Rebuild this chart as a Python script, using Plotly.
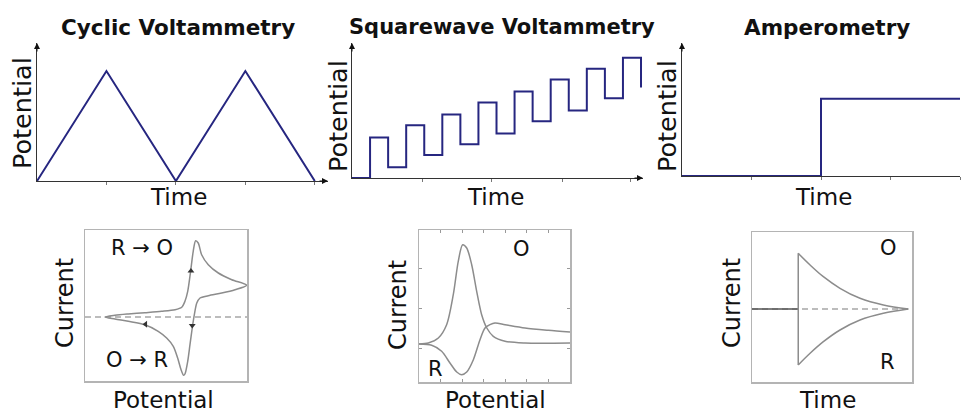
import plotly.graph_objects as go

W, H = 961, 415

# ---------------- data ----------------
cv_time = [0, 1, 2, 3, 4]
cv_potential = [0, 1, 0, 1, 0]
cv_ticks = [1, 2, 3, 4]

swv_time = [0, 1, 2, 3, 4, 5, 6, 7, 8, 9, 10, 11, 12, 13, 14, 15, 16]
swv_potential = [0, 0.30, 0.08, 0.39, 0.17, 0.47, 0.25, 0.56, 0.33,
                 0.64, 0.42, 0.73, 0.50, 0.81, 0.59, 0.89, 0.67]
swv_ticks = [3.9, 7.75, 11.65, 15.4]

amp_time = [0, 1, 1, 2]
amp_potential = [0, 0, 0.58, 0.58]
amp_ticks = [0.5, 1, 1.5, 2]

# CV current response (closed loop: forward then reverse scan)
cv_E = [0.123, 0.185, 0.267, 0.370, 0.473, 0.556, 0.597, 0.617, 0.634, 0.652,
        0.668, 0.683, 0.699, 0.720, 0.761, 0.823, 0.906, 0.998,
        0.926, 0.844, 0.761, 0.710, 0.690, 0.675, 0.662, 0.648, 0.634, 0.617,
        0.609, 0.593, 0.572, 0.545, 0.504, 0.452, 0.370, 0.267, 0.185, 0.123]
cv_i = [0.0, 0.17, 0.30, 0.43, 0.57, 0.73, 0.97, 1.57, 2.57, 4.57,
        6.57, 7.63, 7.40, 6.23, 5.23, 4.40, 3.73, 3.17,
        2.73, 2.40, 2.13, 1.90, 1.40, 0.23, -1.10, -2.77, -4.43, -5.70,
        -5.83, -5.27, -4.10, -2.93, -2.10, -1.43, -0.77, -0.43, -0.20, 0.0]
cv_arrow_E = [0.654, 0.374, 0.662]
cv_arrow_i = [4.6, -0.72, -0.85]
cv_arrow_sym = ["triangle-up", "triangle-left", "triangle-down"]

# SWV current response
swv_E_a = [0, 0.062, 0.128, 0.183, 0.227, 0.260, 0.289, 0.316, 0.349, 0.382,
           0.415, 0.449, 0.492, 0.570, 0.702, 1.0]
swv_i_a = [0, 0.10, 0.60, 1.93, 4.93, 8.27, 9.93, 9.60, 7.93, 5.27,
           2.93, 1.60, 0.77, 0.27, 0.10, 0.10]
swv_E_b = [0, 0.084, 0.150, 0.205, 0.250, 0.283, 0.316, 0.360, 0.404, 0.437,
           0.470, 0.503, 0.570, 0.702, 0.856, 1.0]
swv_i_b = [0, -0.13, -0.73, -1.90, -2.80, -3.07, -2.80, -1.57, 0.43, 1.60,
           1.93, 2.10, 1.93, 1.60, 1.37, 1.20]

# Amperometry current response
amp_t_base = [0, 0.289]
amp_i_base = [0, 0]
amp_t_step = [0.289, 0.289]
amp_i_step = [5.57, -5.6]
amp_t_decay = [0.289, 0.363, 0.446, 0.55, 0.675, 0.821, 0.977]
amp_i_up = [5.57, 4.4, 3.23, 2.07, 1.07, 0.4, 0.0]
amp_i_down = [-5.6, -4.43, -3.27, -2.1, -1.1, -0.43, 0.0]

baseline_x = [0, 1]
baseline_y = [0, 0]

titles = ["Cyclic Voltammetry", "Squarewave Voltammetry", "Amperometry"]

# ---------------- figure ----------------
NAVY = "#262680"
GREY = "#8c8c8c"
DASH = "#7a7a7a"
FONT = "DejaVu Sans"


def xd(a, b):
    return [a / W, b / W]


def yd(top, bottom):
    return [1 - bottom / H, 1 - top / H]


fig = go.Figure()

# top row
fig.add_trace(go.Scatter(x=cv_time, y=cv_potential, mode="lines",
                         line=dict(color=NAVY, width=2), xaxis="x", yaxis="y"))
fig.add_trace(go.Scatter(x=swv_time, y=swv_potential, mode="lines", line_shape="hv",
                         line=dict(color=NAVY, width=2), xaxis="x2", yaxis="y2"))
fig.add_trace(go.Scatter(x=amp_time, y=amp_potential, mode="lines",
                         line=dict(color=NAVY, width=2), xaxis="x3", yaxis="y3"))

# bottom row - CV
fig.add_trace(go.Scatter(x=baseline_x, y=baseline_y, mode="lines",
                         line=dict(color=DASH, width=1.2, dash="6px,4px"),
                         xaxis="x4", yaxis="y4"))
fig.add_trace(go.Scatter(x=cv_E, y=cv_i, mode="lines", line_shape="spline",
                         line=dict(color=GREY, width=1.5, smoothing=0.8),
                         xaxis="x4", yaxis="y4"))
fig.add_trace(go.Scatter(x=cv_arrow_E, y=cv_arrow_i, mode="markers",
                         marker=dict(symbol=cv_arrow_sym, size=6, color="#333"),
                         xaxis="x4", yaxis="y4"))

# bottom row - SWV
fig.add_trace(go.Scatter(x=swv_E_a, y=swv_i_a, mode="lines", line_shape="spline",
                         line=dict(color=GREY, width=1.5, smoothing=0.8),
                         xaxis="x5", yaxis="y5"))
fig.add_trace(go.Scatter(x=swv_E_b, y=swv_i_b, mode="lines", line_shape="spline",
                         line=dict(color=GREY, width=1.5, smoothing=0.8),
                         xaxis="x5", yaxis="y5"))

# bottom row - amperometry
fig.add_trace(go.Scatter(x=baseline_x, y=baseline_y, mode="lines",
                         line=dict(color=DASH, width=1.2, dash="6px,4px"),
                         xaxis="x6", yaxis="y6"))
fig.add_trace(go.Scatter(x=amp_t_base, y=amp_i_base, mode="lines",
                         line=dict(color="#555", width=1.5), xaxis="x6", yaxis="y6"))
fig.add_trace(go.Scatter(x=amp_t_step, y=amp_i_step, mode="lines",
                         line=dict(color=GREY, width=1.5), xaxis="x6", yaxis="y6"))
fig.add_trace(go.Scatter(x=amp_t_decay, y=amp_i_up, mode="lines", line_shape="spline",
                         line=dict(color=GREY, width=1.5), xaxis="x6", yaxis="y6"))
fig.add_trace(go.Scatter(x=amp_t_decay, y=amp_i_down, mode="lines", line_shape="spline",
                         line=dict(color=GREY, width=1.5), xaxis="x6", yaxis="y6"))

top_x = dict(showline=True, linecolor="#333", linewidth=1, showgrid=False,
             zeroline=False, ticks="outside", ticklen=3, tickcolor="#777",
             showticklabels=False, fixedrange=True)
top_y = dict(showline=True, linecolor="#333", linewidth=1, showgrid=False,
             zeroline=False, showticklabels=False, ticks="", fixedrange=True)
box = dict(showline=True, mirror=True, linecolor="#b4b4b4", linewidth=1.5,
           showgrid=False, zeroline=False, showticklabels=False, ticks="",
           fixedrange=True)

fig.update_layout(
    width=W, height=H, autosize=False,
    margin=dict(l=0, r=0, t=0, b=0),
    paper_bgcolor="white", plot_bgcolor="white",
    showlegend=False,
    xaxis=dict(top_x, domain=xd(37, 328), range=[0, 4.19], anchor="y",
               tickvals=cv_ticks),
    yaxis=dict(top_y, domain=yd(43, 181), range=[0, 1.255], anchor="x"),
    xaxis2=dict(top_x, domain=xd(352, 643), range=[0, 16.11], anchor="y2",
                tickvals=swv_ticks),
    yaxis2=dict(top_y, domain=yd(43, 178), range=[0, 1], anchor="x2"),
    xaxis3=dict(top_x, domain=xd(682, 960), range=[0, 2], anchor="y3",
                tickvals=amp_ticks),
    yaxis3=dict(top_y, domain=yd(43, 176), range=[0, 1], anchor="x3"),
    xaxis4=dict(box, domain=xd(85, 247), range=[0, 1], anchor="y4"),
    yaxis4=dict(box, domain=yd(230, 381), range=[-6.4, 8.7], anchor="x4"),
    xaxis5=dict(box, domain=xd(419, 570), range=[0, 1], anchor="y5",
                ticks="inside", ticklen=3, tickcolor="#999", tick0=0, dtick=0.143),
    yaxis5=dict(box, domain=yd(230, 382), range=[-3.8, 11.4], anchor="x5",
                ticks="inside", ticklen=3, tickcolor="#999", tick0=3.6, dtick=4),
    xaxis6=dict(box, domain=xd(752, 912), range=[0, 1], anchor="y6"),
    yaxis6=dict(box, domain=yd(232, 382), range=[-7.3, 7.7], anchor="x6"),
)
fig.layout.xaxis5.mirror = "allticks"
fig.layout.yaxis5.mirror = "allticks"

ann = []


def label(text, px, py, size, angle=0, bold=False, yanchor="middle"):
    ann.append(dict(text=text, x=px / W, y=1 - py / H, xref="paper", yref="paper",
                    xanchor="center", yanchor=yanchor, showarrow=False,
                    textangle=angle, borderpad=0,
                    font=dict(family=FONT, size=size, color="#111",
                              weight="bold" if bold else "normal")))


label(titles[0], 178, 27, 21.5, bold=True)
label(titles[1], 502, 27, 21, bold=True)
label(titles[2], 827, 27, 21.5, bold=True)

label("Potential", 22, 113, 25.5, angle=-90)
label("Potential", 338, 116, 25.5, angle=-90)
label("Potential", 667, 116, 25.5, angle=-90)
label("Time", 178, 197, 23)
label("Time", 495, 197, 23)
label("Time", 823, 197, 23)

label("Current", 65, 303, 24, angle=-90)
label("Current", 398, 305, 24, angle=-90)
label("Current", 732, 303, 24, angle=-90)
label("Potential", 163, 414, 23, yanchor="bottom")
label("Potential", 495, 414, 23, yanchor="bottom")
label("Time", 827, 414, 23, yanchor="bottom")

label("R \u2192 O", 142, 248, 21)
label("O \u2192 R", 137, 360, 21)
label("O", 521, 249, 21)
label("R", 435, 369, 21)
label("O", 888, 248, 21)
label("R", 887, 362, 21)

# axis arrowheads
for xa, ya, dx, dy in [("x", "y", 0, 1), ("x2", "y2", 0, 1), ("x3", "y3", 0, 1),
                       ("x", "y", 1, 0), ("x2", "y2", 1, 0)]:
    if dx == 0:
        ann.append(dict(x=0, y=1, xref=f"{xa} domain", yref=f"{ya} domain",
                        ax=0, ay=10, text="", showarrow=True, arrowhead=2,
                        arrowsize=1.2, arrowwidth=1, arrowcolor="#111"))
    else:
        ann.append(dict(x=1, y=0, xref=f"{xa} domain", yref=f"{ya} domain",
                        ax=-10, ay=0, text="", showarrow=True, arrowhead=2,
                        arrowsize=1.2, arrowwidth=1, arrowcolor="#111"))

fig.update_layout(annotations=ann)

fig.write_html("out.html",
               config={"displayModeBar": False, "staticPlot": True},
               post_script="document.body.style.margin='0';"
                           "document.body.style.overflow='hidden';")
